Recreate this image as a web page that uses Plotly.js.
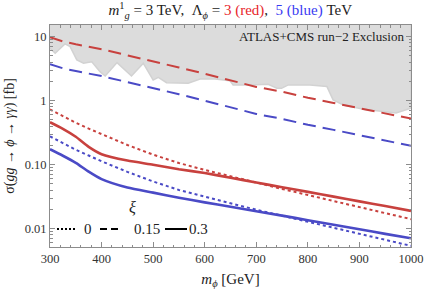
<!DOCTYPE html>
<html>
<head>
<meta charset="utf-8">
<script src="https://cdn.plot.ly/plotly-3.0.1.min.js"></script>
<style>html,body{margin:0;padding:0;background:#fff}#plot{width:424px;height:289px}</style>
</head>
<body>
<div id="plot"></div>
<script>
// m_phi grid [GeV]
const mass = [300, 325, 350, 375, 400, 450, 500, 550, 600, 650, 700, 750, 800, 850, 900, 950, 1000];

// Lambda = 3 TeV (red), xi = 0, 0.15, 0.3  [fb]
const red_xi0   = [0.73, 0.571, 0.451, 0.366, 0.298, 0.203, 0.1435, 0.106, 0.083, 0.0655, 0.052, 0.0418, 0.0336, 0.027, 0.0217, 0.0175, 0.0141];
const red_xi015 = [9.8, 8.4, 7.6, 6.9, 6.37, 5.1, 4.15, 3.3, 2.63, 2.06, 1.64, 1.38, 1.11, 0.92, 0.76, 0.63, 0.525];
const red_xi03  = [0.46, 0.363, 0.273, 0.19, 0.146, 0.116, 0.100, 0.085, 0.074, 0.0625, 0.0527, 0.0445, 0.0376, 0.0317, 0.0267, 0.0226, 0.019];

// Lambda = 5 TeV (blue)
const blue_xi0   = [0.277, 0.217, 0.171, 0.139, 0.113, 0.0773, 0.0546, 0.0403, 0.0315, 0.0249, 0.0198, 0.0159, 0.0128, 0.0103, 0.0083, 0.0066, 0.0054];
const blue_xi015 = [3.7, 3.2, 2.9, 2.65, 2.42, 1.95, 1.58, 1.26, 1.0, 0.79, 0.62, 0.52, 0.42, 0.35, 0.29, 0.24, 0.197];
const blue_xi03  = [0.174, 0.138, 0.107, 0.078, 0.0596, 0.044, 0.0366, 0.0305, 0.0258, 0.022, 0.0187, 0.016, 0.0136, 0.0115, 0.0098, 0.0083, 0.0071];

// ATLAS+CMS run-2 exclusion boundary
const excl_mass  = [300, 310, 329, 339, 352, 365, 381, 397, 407, 430, 458, 481, 500, 510, 526, 546, 568, 591, 620, 649, 655, 688, 723, 740, 749, 762, 804, 837, 849, 869, 908, 971, 988, 1000];
const excl_sigma = [6.59, 5.5, 7.69, 6.98, 4.33, 3.84, 4.06, 2.84, 2.43, 3.93, 2.43, 3.84, 2.10, 2.32, 1.91, 1.87, 1.87, 2.18, 2.18, 2.05, 1.76, 1.76, 1.80, 1.56, 1.56, 1.76, 1.76, 1.66, 1.03, 0.857, 0.734, 0.643, 0.698, 0.76];
const excl_top = 100;

const xiLabels = ['0', '0.15', '0.3'];
const yTickVals = [0.01, 0.1, 1, 10];
const yTickText = ['0.01', '0.10', '1', '10'];
const xTickVals = [300, 400, 500, 600, 700, 800, 900, 1000];

const RED = '#c8413e';
const BLUE = '#4a4ac6';
const SERIF = 'Liberation Serif, Times New Roman, serif';

// minor tick positions
const yMinor = [];
for (let d = -3; d <= 1; d++) for (let k = 2; k <= 9; k++) yMinor.push(k * Math.pow(10, d));
const xMinor = [];
for (let v = 300; v <= 1000; v += 20) xMinor.push(v);

const exclX = excl_mass.concat([excl_mass[excl_mass.length - 1], excl_mass[0]]);
const exclY = excl_sigma.concat([excl_top, excl_top]);

const DOT = '3px,3px';
const DASH = '13px,7px';

const traces = [
  {x: exclX, y: exclY, mode: 'lines', fill: 'toself', fillcolor: '#dcdcdc',
   line: {color: '#d2d2d2', width: 1.5}, hoverinfo: 'skip'},
  {x: mass, y: red_xi015, mode: 'lines', line: {color: RED, width: 2, dash: DASH}},
  {x: mass, y: blue_xi015, mode: 'lines', line: {color: BLUE, width: 2, dash: DASH}},
  {x: mass, y: red_xi0, mode: 'lines', line: {color: RED, width: 2, dash: DOT}},
  {x: mass, y: blue_xi0, mode: 'lines', line: {color: BLUE, width: 2, dash: DOT}},
  {x: mass, y: red_xi03, mode: 'lines', line: {color: RED, width: 2.6, shape: 'spline', smoothing: 0.6}},
  {x: mass, y: blue_xi03, mode: 'lines', line: {color: BLUE, width: 2.6, shape: 'spline', smoothing: 0.6}}
];

const axisCommon = {
  showline: true, linecolor: '#8c8c8c', linewidth: 1, mirror: 'allticks',
  ticks: 'inside', ticklen: 5, tickcolor: '#8c8c8c', tickwidth: 1,
  showgrid: false, zeroline: false,
  tickfont: {family: SERIF, size: 12.5, color: '#333'}
};

// legend (xi line styles), placed in paper coordinates
const PW = 361, PH = 222;
const px = v => (v - 50) / PW;
const py = v => (247 - v) / PH;
const legRowY = py(229);
const legendSamples = [
  {x0: 57, x1: 76, dash: '2px,2px', text: xiLabels[0], tx: 88},
  {x0: 100, x1: 121, dash: '7px,4px', text: xiLabels[1], tx: 147},
  {x0: 165, x1: 187, dash: 'solid', text: xiLabels[2], tx: 198}
];
const shapes = legendSamples.map(s => ({
  type: 'line', xref: 'paper', yref: 'paper', x0: px(s.x0), x1: px(s.x1), y0: legRowY, y1: legRowY,
  line: {color: '#000', width: 2, dash: s.dash}
}));
const legendAnn = legendSamples.map(s => ({
  text: s.text, xref: 'paper', yref: 'paper', x: px(s.tx), y: legRowY, xanchor: 'center', yanchor: 'middle',
  showarrow: false, font: {family: SERIF, size: 15, color: '#222'}
}));

const layout = {
  width: 424, height: 289,
  margin: {l: 50, r: 13, t: 25, b: 42},
  paper_bgcolor: '#fff', plot_bgcolor: '#fff',
  showlegend: false,
  title: {
    text: '<i>m</i><sup>1</sup><sub><i>g</i></sub> = 3 TeV,  Λ<sub><i>ϕ</i></sub> = <span style="color:#e8262b">3 (red)</span>,  <span style="color:#3a3af2">5 (blue)</span> TeV',
    font: {family: SERIF, size: 15, color: '#222'},
    x: 0.543, xanchor: 'center', y: 0.965, yanchor: 'middle'
  },
  xaxis: Object.assign({}, axisCommon, {
    range: [300, 1000], tickmode: 'array', tickvals: xTickVals,
    minor: {tickmode: 'array', tickvals: xMinor, ticklen: 2.5, tickcolor: '#8c8c8c', ticks: 'inside'},
    title: {text: '<i>m</i><sub><i>ϕ</i></sub> [GeV]', font: {family: SERIF, size: 15, color: '#222'}, standoff: 8}
  }),
  yaxis: Object.assign({}, axisCommon, {
    type: 'log', range: [Math.log10(0.00518), Math.log10(15.2)],
    tickmode: 'array', tickvals: yTickVals, ticktext: yTickText,
    minor: {tickmode: 'array', tickvals: yMinor, ticklen: 2.5, tickcolor: '#8c8c8c', ticks: 'inside'},
    title: {text: 'σ(<i>gg</i> → <i>ϕ</i> → <i>γγ</i>) [fb]', font: {family: SERIF, size: 14, color: '#222'}, standoff: 6}
  }),
  shapes: shapes,
  annotations: [{
    text: 'ATLAS+CMS run−2 Exclusion', xref: 'paper', yref: 'paper',
    x: 0.985, y: 0.95, xanchor: 'right', yanchor: 'middle', showarrow: false,
    font: {family: SERIF, size: 13, color: '#222'}
  }, {
    text: '<i>ξ</i>', xref: 'paper', yref: 'paper', x: px(132), y: py(207),
    xanchor: 'center', yanchor: 'middle', showarrow: false,
    font: {family: SERIF, size: 16, color: '#222'}
  }].concat(legendAnn)
};

Plotly.newPlot('plot', traces, layout, {displayModeBar: false, staticPlot: true});
</script>
</body>
</html>
